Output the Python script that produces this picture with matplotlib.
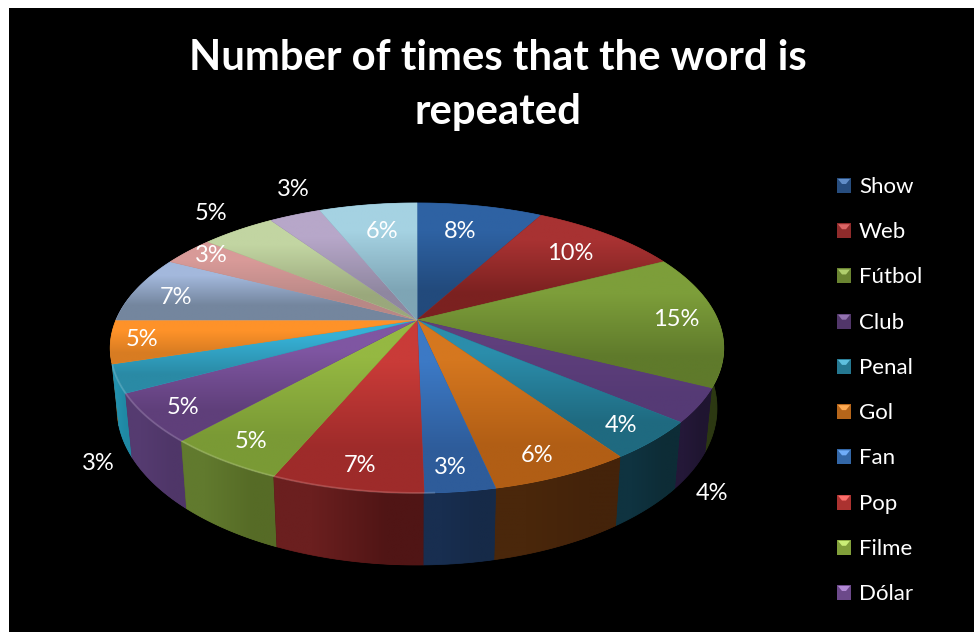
import numpy as np
import matplotlib
matplotlib.use("Agg")
import matplotlib.pyplot as plt
from matplotlib.patches import Polygon, Rectangle

plt.rcParams["font.family"] = ["Lato", "DejaVu Sans"]

# share of each slice (clockwise from 12 o'clock)
values = [8.0, 9.5, 14.9, 3.7, 4.3, 6.2, 3.1, 6.7, 5.3, 5.4, 3.1, 4.8, 7.5, 3.3, 4.7, 3.3, 6.2]
pct_labels = ["8%", "10%", "15%", "4%", "4%", "6%", "3%", "7%", "5%", "5%", "3%", "5%", "7%", "3%", "5%", "3%", "6%"]
legend_names = ["Show", "Web", "Fútbol", "Club", "Penal", "Gol", "Fan", "Pop", "Filme", "Dólar"]

# top face colours, far end and near end of the gradient
top_far = ["#2e62a3", "#a83232", "#7d9e3a", "#5f3f7c", "#2b8dab", "#d5771f", "#3c79c5", "#c93b38",
           "#95b842", "#7f56a2", "#36b0d5", "#fe9229", "#a3b8dc", "#d89a98", "#c2d5a2", "#b7a7c9", "#a5d2e2"]
top_near = ["#224a7c", "#7b2120", "#5f7a2b", "#553a75", "#1f6a80", "#b15e15", "#2e5c9a", "#9e2b2a",
            "#7a9a35", "#5f3f7a", "#2a8aa5", "#d87c22", "#74869e", "#b88886", "#9aa87c", "#8f87a0", "#7ea5b5"]
# wall colours, left and right end of the gradient
wall_left = ["#16294a", "#4e1414", "#2c3812", "#241838", "#0f3340", "#4a270b", "#182e50", "#6b1f1f",
             "#617a2e", "#553b70", "#2390ad", "#7a4a10", "#445070", "#6a4a4a", "#5a6a40", "#504060", "#406070"]
wall_right = ["#16294a", "#4e1414", "#2c3812", "#1f1530", "#0d2c36", "#44230a", "#162a48", "#501515",
              "#566b26", "#4f3668", "#1f88a3", "#7a4a10", "#445070", "#6a4a4a", "#5a6a40", "#504060", "#406070"]
legend_colors = ["#2e5a94", "#a83232", "#7d9b3a", "#5f3f7c", "#2b8dab", "#d5771f", "#3c79c5", "#c93b38", "#98bb44", "#7f56a2"]

# centre of each percent label in the picture
label_pos = [(460, 232), (570, 254), (676, 320), (712, 494), (621, 426), (537, 456), (450, 468), (360, 466),
             (251, 442), (183, 408), (98, 464), (142, 340), (176, 298), (211, 256), (211, 213), (293, 189), (382, 231)]

# perspective of the disk
cx, cy = 417, 320
rx, ry, persp, depth = 301, 139.6, 0.193, 58.1


def project(angle):
    u, v = np.sin(angle), np.cos(angle)
    d = 1 + persp * v
    return cx + rx * u / d, cy - ry * v / d


def project_low(angle):
    x, y = project(angle)
    d = 1 + persp * np.cos(angle)
    return cx + (x - cx) * 0.978, y + depth / d


def gradient_fill(ax, xy, c0, c1, vertical=True, zorder=2):
    # linear gradient over the bbox of a polygon, clipped to it
    xy = np.asarray(xy)
    rgb = np.array([matplotlib.colors.to_rgb(c0), matplotlib.colors.to_rgb(c1)])
    img = rgb[:, None, :] if vertical else rgb[None, :, :]
    x0, y0 = xy.min(axis=0)
    x1, y1 = xy.max(axis=0)
    mid = rgb.mean(axis=0)
    patch = Polygon(xy, closed=True, fc=mid, ec=mid, lw=0.5, zorder=zorder)
    ax.add_patch(patch)
    im = ax.imshow(img, extent=(x0, x1, y1, y0), aspect="auto", interpolation="bilinear", zorder=zorder)
    im.set_clip_path(patch)


fig = plt.figure(figsize=(9.74, 6.32), dpi=100, facecolor="white")
ax = fig.add_axes([0, 0, 1, 1])
ax.add_patch(Rectangle((9, 8), 965, 624, fc="black", ec="none", zorder=0))

edges = np.radians(np.cumsum([0] + values) * 3.6)

# walls first, back to front, the top face hides what is behind it
order = np.argsort([-np.cos((edges[i] + edges[i + 1]) / 2) for i in range(len(values))])
for i in order:
    t = np.linspace(edges[i], edges[i + 1], 40)
    top = np.array([project(a) for a in t])
    low = np.array([project_low(a) for a in t])
    xy = np.vstack([top, low[::-1]])
    c0, c1 = wall_left[i], wall_right[i]
    if top[0, 0] < top[-1, 0]:
        c0, c1 = c1, c0
    gradient_fill(ax, xy, c0, c1, vertical=False, zorder=2)

# top face
for i in range(len(values)):
    t = np.linspace(edges[i], edges[i + 1], 60)
    rim = np.array([project(a) for a in t])
    xy = np.vstack([[(cx, cy)], rim])
    gradient_fill(ax, xy, top_far[i], top_near[i], zorder=3)
    # small highlight on the front rim, left side only
    front = (np.cos(t) < -0.3) & (np.sin(t) < 0.05)
    if front.any():
        ax.plot(rim[front, 0], rim[front, 1], color="white", alpha=0.16, lw=1.4, zorder=4, solid_capstyle="butt")

for (x, y), lab in zip(label_pos, pct_labels):
    ax.text(x, y, lab, color="white", fontsize=17, ha="center", va="center", zorder=5)

ax.text(498, 58, "Number of times that the word is", color="white", fontsize=30.2, fontweight="bold",
        ha="center", va="center", zorder=5)
ax.text(498, 112, "repeated", color="white", fontsize=30.2, fontweight="bold", ha="center", va="center", zorder=5)

# legend, only the first ten names fit
for y, name, col in zip(np.linspace(186, 593, len(legend_names)), legend_names, legend_colors):
    rgb = matplotlib.colors.to_rgb(col)
    dark = tuple(0.85 * c for c in rgb)
    light = tuple(min(1, 0.2 + c) for c in rgb)
    ax.add_patch(Rectangle((837, y - 8), 14, 15, fc=dark, ec="none", zorder=3))
    ax.add_patch(Polygon([(838, y - 7), (850, y - 7), (846, y - 2), (842, y - 2)], fc=light, ec="none", zorder=4))
    ax.text(859, y + 1, name, color="white", fontsize=16, ha="left", va="center", zorder=5)

ax.set_xlim(0, 974)
ax.set_ylim(632, 0)
ax.axis("off")
fig.savefig("out.png", dpi=100, facecolor="white")
